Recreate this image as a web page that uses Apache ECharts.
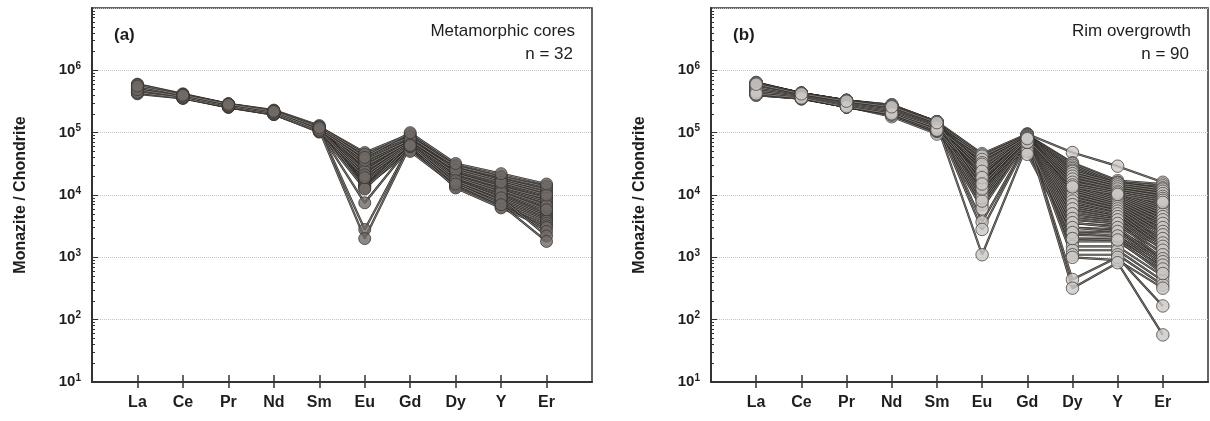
<!DOCTYPE html>
<html>
<head>
<meta charset="utf-8">
<script src="https://cdn.jsdelivr.net/npm/echarts@6/dist/echarts.min.js"></script>
<style>
  html, body { margin: 0; padding: 0; background: #fff; }
  #chart { width: 1210px; height: 421px; }
</style>
</head>
<body>
<div id="chart"></div>
<script>
// Element order along the x axis (chondrite-normalised REE + Y pattern)
const elements = ['La', 'Ce', 'Pr', 'Nd', 'Sm', 'Eu', 'Gd', 'Dy', 'Y', 'Er'];
const elementPos = [1, 2, 3, 4, 5, 6, 7, 8, 9, 10];

// Log-axis minor tick positions (2..9 within every decade 10^1 - 10^7)
const minorTicks = [
  20, 30, 40, 50, 60, 70, 80, 90,
  200, 300, 400, 500, 600, 700, 800, 900,
  2e3, 3e3, 4e3, 5e3, 6e3, 7e3, 8e3, 9e3,
  2e4, 3e4, 4e4, 5e4, 6e4, 7e4, 8e4, 9e4,
  2e5, 3e5, 4e5, 5e5, 6e5, 7e5, 8e5, 9e5,
  2e6, 3e6, 4e6, 5e6, 6e6, 7e6, 8e6, 9e6
];

// (a) Metamorphic cores, n = 32 — columns: La Ce Pr Nd Sm Eu Gd Dy Y Er
const coresData = [
  [5.8e5, 4.1e5, 2.9e5, 2.2e5, 1.25e5, 4.8e4, 9.5e4, 3.0e4, 2.0e4, 1.4e4],
  [5.5e5, 4.0e5, 2.8e5, 2.2e5, 1.2e5, 4.2e4, 8.8e4, 2.8e4, 1.9e4, 1.3e4],
  [5.2e5, 3.9e5, 2.8e5, 2.1e5, 1.2e5, 3.8e4, 8.0e4, 2.6e4, 1.8e4, 1.2e4],
  [6.0e5, 4.2e5, 2.9e5, 2.3e5, 1.3e5, 3.5e4, 7.8e4, 2.5e4, 1.6e4, 1.05e4],
  [4.8e5, 3.8e5, 2.7e5, 2.1e5, 1.15e5, 3.2e4, 7.5e4, 2.4e4, 1.5e4, 9.5e3],
  [4.5e5, 3.7e5, 2.6e5, 2.0e5, 1.1e5, 3.0e4, 7.2e4, 2.3e4, 1.45e4, 9.0e3],
  [5.0e5, 3.8e5, 2.7e5, 2.1e5, 1.15e5, 2.8e4, 7.0e4, 2.2e4, 1.4e4, 8.5e3],
  [4.4e5, 3.6e5, 2.6e5, 2.0e5, 1.1e5, 2.6e4, 6.8e4, 2.1e4, 1.3e4, 8.0e3],
  [5.4e5, 4.0e5, 2.8e5, 2.2e5, 1.2e5, 2.5e4, 6.6e4, 2.0e4, 1.25e4, 7.5e3],
  [4.7e5, 3.7e5, 2.7e5, 2.1e5, 1.1e5, 2.3e4, 6.5e4, 1.9e4, 1.2e4, 7.0e3],
  [5.1e5, 3.9e5, 2.8e5, 2.15e5, 1.15e5, 2.2e4, 6.4e4, 1.85e4, 1.15e4, 6.5e3],
  [4.3e5, 3.6e5, 2.55e5, 1.95e5, 1.05e5, 2.0e4, 6.2e4, 1.8e4, 1.1e4, 6.0e3],
  [5.6e5, 4.0e5, 2.85e5, 2.2e5, 1.2e5, 1.9e4, 6.0e4, 1.75e4, 1.05e4, 5.5e3],
  [4.6e5, 3.7e5, 2.65e5, 2.05e5, 1.1e5, 1.8e4, 5.8e4, 1.7e4, 1.0e4, 5.0e3],
  [4.9e5, 3.8e5, 2.7e5, 2.1e5, 1.12e5, 1.7e4, 5.7e4, 1.65e4, 9.5e3, 4.8e3],
  [4.4e5, 3.6e5, 2.6e5, 2.0e5, 1.05e5, 1.6e4, 5.5e4, 1.6e4, 9.0e3, 4.5e3],
  [5.3e5, 3.9e5, 2.8e5, 2.15e5, 1.18e5, 1.5e4, 5.4e4, 1.55e4, 8.5e3, 4.2e3],
  [4.7e5, 3.7e5, 2.65e5, 2.05e5, 1.08e5, 1.45e4, 5.3e4, 1.5e4, 8.0e3, 4.0e3],
  [5.0e5, 3.8e5, 2.7e5, 2.1e5, 1.12e5, 1.4e4, 5.2e4, 1.45e4, 7.5e3, 3.8e3],
  [4.5e5, 3.65e5, 2.6e5, 2.0e5, 1.05e5, 1.35e4, 5.0e4, 1.4e4, 7.0e3, 3.5e3],
  [5.7e5, 4.05e5, 2.85e5, 2.2e5, 1.22e5, 1.3e4, 6.8e4, 1.35e4, 6.5e3, 3.2e3],
  [4.2e5, 3.55e5, 2.55e5, 1.95e5, 1.02e5, 1.25e4, 6.0e4, 1.3e4, 6.2e3, 3.0e3],
  [5.5e5, 4.0e5, 2.8e5, 2.2e5, 1.2e5, 2.9e4, 7.2e4, 2.7e4, 1.7e4, 1.1e4],
  [4.8e5, 3.75e5, 2.7e5, 2.1e5, 1.1e5, 2.4e4, 6.9e4, 2.2e4, 1.35e4, 8.8e3],
  [5.2e5, 3.9e5, 2.75e5, 2.15e5, 1.15e5, 2.1e4, 6.6e4, 2.0e4, 1.2e4, 6.8e3],
  [4.6e5, 3.7e5, 2.65e5, 2.05e5, 1.08e5, 1.9e4, 6.3e4, 1.9e4, 1.1e4, 5.8e3],
  [5.9e5, 4.1e5, 2.9e5, 2.25e5, 1.25e5, 4.5e4, 8.5e4, 2.9e4, 1.95e4, 1.35e4],
  [5.0e5, 3.85e5, 2.7e5, 2.1e5, 1.12e5, 3.6e4, 7.6e4, 2.5e4, 1.6e4, 1.0e4],
  [4.4e5, 3.6e5, 2.6e5, 2.0e5, 1.05e5, 7.5e3, 6.0e4, 1.6e4, 8.0e3, 2.6e3],
  [5.3e5, 3.9e5, 2.8e5, 2.15e5, 1.15e5, 2.8e3, 6.5e4, 1.7e4, 9.0e3, 2.2e3],
  [4.9e5, 3.8e5, 2.7e5, 2.1e5, 1.1e5, 2.0e3, 6.2e4, 1.5e4, 7.0e3, 1.8e3],
  [5.6e5, 4.0e5, 2.85e5, 2.2e5, 1.2e5, 4.0e4, 1.0e5, 3.2e4, 2.2e4, 1.5e4]
];

// (b) Rim overgrowth, n = 90 — columns: La Ce Pr Nd Sm Eu Gd Dy Y Er
const rimData = [
  [6.4e5, 4.3e5, 3.3e5, 2.7e5, 1.5e5, 4.6e4, 9.5e4, 4.8e4, 2.9e4, 1.6e4],
  [6.0e5, 4.2e5, 3.2e5, 2.6e5, 1.45e5, 4.2e4, 9.2e4, 3.3e4, 1.7e4, 1.5e4],
  [5.8e5, 4.1e5, 3.1e5, 2.6e5, 1.4e5, 3.8e4, 9.0e4, 3.1e4, 1.6e4, 1.4e4],
  [5.6e5, 4.1e5, 3.1e5, 2.5e5, 1.4e5, 3.5e4, 8.9e4, 2.9e4, 1.55e4, 1.3e4],
  [5.5e5, 4.0e5, 3.0e5, 2.5e5, 1.35e5, 3.2e4, 8.8e4, 2.7e4, 1.5e4, 1.2e4],
  [5.4e5, 4.0e5, 3.0e5, 2.4e5, 1.35e5, 3.0e4, 8.7e4, 2.6e4, 1.45e4, 1.15e4],
  [5.3e5, 3.9e5, 2.9e5, 2.4e5, 1.3e5, 2.8e4, 8.6e4, 2.5e4, 1.4e4, 1.1e4],
  [5.2e5, 3.9e5, 2.9e5, 2.3e5, 1.3e5, 2.6e4, 8.5e4, 2.4e4, 1.35e4, 1.05e4],
  [5.1e5, 3.9e5, 2.9e5, 2.3e5, 1.25e5, 2.5e4, 8.4e4, 2.3e4, 1.3e4, 1.0e4],
  [5.0e5, 3.8e5, 2.8e5, 2.3e5, 1.25e5, 2.4e4, 8.3e4, 2.2e4, 1.25e4, 9.5e3],
  [4.9e5, 3.8e5, 2.8e5, 2.2e5, 1.2e5, 2.3e4, 8.2e4, 2.1e4, 1.2e4, 9.0e3],
  [4.8e5, 3.8e5, 2.8e5, 2.2e5, 1.2e5, 2.2e4, 8.1e4, 2.0e4, 1.15e4, 8.8e3],
  [4.7e5, 3.7e5, 2.75e5, 2.2e5, 1.15e5, 2.1e4, 8.0e4, 1.9e4, 1.1e4, 8.5e3],
  [4.6e5, 3.7e5, 2.7e5, 2.1e5, 1.15e5, 2.0e4, 7.9e4, 1.85e4, 1.08e4, 8.2e3],
  [4.5e5, 3.7e5, 2.7e5, 2.1e5, 1.1e5, 1.9e4, 7.8e4, 1.8e4, 1.05e4, 8.0e3],
  [4.4e5, 3.6e5, 2.7e5, 2.0e5, 1.1e5, 1.85e4, 7.7e4, 1.7e4, 1.0e4, 7.8e3],
  [4.3e5, 3.6e5, 2.65e5, 2.0e5, 1.05e5, 1.8e4, 7.6e4, 1.65e4, 9.8e3, 7.5e3],
  [4.2e5, 3.6e5, 2.6e5, 1.9e5, 1.05e5, 1.75e4, 7.5e4, 1.6e4, 9.5e3, 7.2e3],
  [4.1e5, 3.5e5, 2.6e5, 1.9e5, 1.0e5, 1.7e4, 7.4e4, 1.55e4, 9.2e3, 7.0e3],
  [4.0e5, 3.5e5, 2.6e5, 1.8e5, 9.5e4, 1.65e4, 7.3e4, 1.5e4, 9.0e3, 6.8e3],
  [6.2e5, 4.3e5, 3.2e5, 2.7e5, 1.45e5, 1.6e4, 9.3e4, 1.45e4, 8.8e3, 6.5e3],
  [6.1e5, 4.2e5, 3.2e5, 2.6e5, 1.45e5, 1.55e4, 9.1e4, 1.4e4, 8.5e3, 6.2e3],
  [5.9e5, 4.2e5, 3.1e5, 2.6e5, 1.4e5, 1.5e4, 9.0e4, 1.35e4, 8.2e3, 6.0e3],
  [5.7e5, 4.1e5, 3.1e5, 2.5e5, 1.4e5, 1.45e4, 8.9e4, 1.3e4, 8.0e3, 5.8e3],
  [5.5e5, 4.1e5, 3.0e5, 2.5e5, 1.35e5, 1.4e4, 8.8e4, 1.25e4, 7.8e3, 5.5e3],
  [5.3e5, 4.0e5, 3.0e5, 2.4e5, 1.3e5, 1.35e4, 8.7e4, 1.2e4, 7.5e3, 5.2e3],
  [5.1e5, 4.0e5, 2.9e5, 2.4e5, 1.3e5, 1.3e4, 8.6e4, 1.15e4, 7.2e3, 5.0e3],
  [4.9e5, 3.9e5, 2.9e5, 2.3e5, 1.25e5, 1.25e4, 8.5e4, 1.1e4, 7.0e3, 4.8e3],
  [4.7e5, 3.9e5, 2.8e5, 2.3e5, 1.2e5, 1.2e4, 8.4e4, 1.05e4, 6.8e3, 4.5e3],
  [4.5e5, 3.8e5, 2.8e5, 2.2e5, 1.15e5, 1.15e4, 8.3e4, 1.0e4, 6.5e3, 4.2e3],
  [4.3e5, 3.8e5, 2.7e5, 2.2e5, 1.1e5, 1.1e4, 8.2e4, 9.5e3, 6.2e3, 4.0e3],
  [4.1e5, 3.7e5, 2.7e5, 2.1e5, 1.05e5, 1.08e4, 8.1e4, 9.0e3, 6.0e3, 3.8e3],
  [6.3e5, 4.3e5, 3.3e5, 2.8e5, 1.5e5, 1.05e4, 8.0e4, 8.5e3, 5.8e3, 3.5e3],
  [6.0e5, 4.2e5, 3.2e5, 2.7e5, 1.45e5, 1.02e4, 7.9e4, 8.0e3, 5.5e3, 3.2e3],
  [5.7e5, 4.1e5, 3.1e5, 2.6e5, 1.4e5, 1.0e4, 7.8e4, 7.5e3, 5.2e3, 3.0e3],
  [5.4e5, 4.0e5, 3.0e5, 2.5e5, 1.35e5, 9.5e3, 7.7e4, 7.0e3, 5.0e3, 2.8e3],
  [5.1e5, 3.9e5, 2.9e5, 2.4e5, 1.3e5, 9.0e3, 7.6e4, 6.5e3, 4.8e3, 2.5e3],
  [4.8e5, 3.8e5, 2.8e5, 2.3e5, 1.25e5, 8.5e3, 7.5e4, 6.0e3, 4.5e3, 2.2e3],
  [4.5e5, 3.7e5, 2.7e5, 2.2e5, 1.2e5, 7.0e3, 7.4e4, 5.5e3, 4.2e3, 2.0e3],
  [4.2e5, 3.6e5, 2.6e5, 2.1e5, 1.1e5, 6.0e3, 7.3e4, 5.0e3, 4.0e3, 1.8e3],
  [6.1e5, 4.2e5, 3.2e5, 2.6e5, 1.45e5, 3.7e3, 7.0e4, 4.5e3, 3.8e3, 1.6e3],
  [5.8e5, 4.1e5, 3.1e5, 2.5e5, 1.4e5, 2.8e3, 6.8e4, 4.0e3, 3.5e3, 1.4e3],
  [5.5e5, 4.0e5, 3.0e5, 2.4e5, 1.35e5, 1.1e3, 6.5e4, 3.5e3, 3.2e3, 1.2e3],
  [5.2e5, 3.9e5, 2.9e5, 2.3e5, 1.3e5, 4.0e4, 6.0e4, 3.0e3, 2.8e3, 1.0e3],
  [4.9e5, 3.8e5, 2.8e5, 2.2e5, 1.25e5, 3.6e4, 5.5e4, 2.6e3, 2.5e3, 900],
  [4.6e5, 3.7e5, 2.7e5, 2.1e5, 1.2e5, 3.3e4, 5.0e4, 2.3e3, 2.2e3, 800],
  [4.3e5, 3.6e5, 2.6e5, 2.0e5, 1.15e5, 3.0e4, 4.5e4, 2.0e3, 2.0e3, 700],
  [4.0e5, 3.5e5, 2.6e5, 1.9e5, 1.05e5, 2.7e4, 7.0e4, 1.8e3, 1.8e3, 600],
  [6.2e5, 4.3e5, 3.3e5, 2.7e5, 1.5e5, 2.4e4, 9.4e4, 1.5e3, 1.5e3, 500],
  [5.9e5, 4.2e5, 3.2e5, 2.6e5, 1.45e5, 2.2e4, 9.2e4, 1.3e3, 1.3e3, 420],
  [5.6e5, 4.1e5, 3.1e5, 2.5e5, 1.4e5, 2.0e4, 9.0e4, 1.1e3, 1.1e3, 360],
  [5.3e5, 4.0e5, 3.0e5, 2.4e5, 1.35e5, 1.8e4, 8.8e4, 1.0e3, 900, 320],
  [5.0e5, 3.9e5, 2.9e5, 2.3e5, 1.3e5, 1.6e4, 8.6e4, 440, 1.0e3, 166],
  [4.7e5, 3.8e5, 2.8e5, 2.2e5, 1.25e5, 1.4e4, 8.4e4, 320, 820, 57],
  [5.8e5, 4.1e5, 3.1e5, 2.6e5, 1.4e5, 4.4e4, 8.9e4, 3.2e4, 1.6e4, 1.2e4],
  [5.5e5, 4.0e5, 3.0e5, 2.5e5, 1.35e5, 3.9e4, 8.7e4, 3.0e4, 1.5e4, 1.1e4],
  [5.2e5, 3.9e5, 2.9e5, 2.4e5, 1.3e5, 3.4e4, 8.5e4, 2.8e4, 1.45e4, 1.0e4],
  [4.9e5, 3.8e5, 2.8e5, 2.3e5, 1.25e5, 3.1e4, 8.3e4, 2.65e4, 1.4e4, 9.5e3],
  [4.6e5, 3.7e5, 2.7e5, 2.2e5, 1.2e5, 2.9e4, 8.1e4, 2.5e4, 1.35e4, 9.0e3],
  [4.3e5, 3.6e5, 2.6e5, 2.1e5, 1.1e5, 2.7e4, 7.9e4, 2.35e4, 1.3e4, 8.5e3],
  [6.3e5, 4.3e5, 3.3e5, 2.8e5, 1.5e5, 2.5e4, 9.5e4, 2.2e4, 1.25e4, 8.0e3],
  [6.0e5, 4.2e5, 3.2e5, 2.7e5, 1.45e5, 2.3e4, 9.3e4, 2.1e4, 1.2e4, 7.5e3],
  [5.7e5, 4.1e5, 3.1e5, 2.6e5, 1.4e5, 2.1e4, 9.1e4, 2.0e4, 1.15e4, 7.0e3],
  [5.4e5, 4.0e5, 3.0e5, 2.5e5, 1.35e5, 1.9e4, 8.9e4, 1.9e4, 1.1e4, 6.5e3],
  [5.1e5, 3.9e5, 2.9e5, 2.4e5, 1.3e5, 1.7e4, 8.7e4, 1.8e4, 1.05e4, 6.0e3],
  [4.8e5, 3.8e5, 2.8e5, 2.3e5, 1.25e5, 1.5e4, 8.5e4, 1.7e4, 1.0e4, 5.5e3],
  [4.5e5, 3.7e5, 2.7e5, 2.2e5, 1.2e5, 1.3e4, 8.3e4, 1.6e4, 9.5e3, 5.0e3],
  [4.2e5, 3.6e5, 2.6e5, 2.1e5, 1.1e5, 1.2e4, 8.1e4, 1.5e4, 9.0e3, 4.5e3],
  [6.1e5, 4.2e5, 3.2e5, 2.6e5, 1.45e5, 1.1e4, 7.9e4, 1.4e4, 8.5e3, 4.0e3],
  [5.8e5, 4.1e5, 3.1e5, 2.5e5, 1.4e5, 1.0e4, 7.7e4, 1.3e4, 8.0e3, 3.5e3],
  [5.5e5, 4.0e5, 3.0e5, 2.4e5, 1.35e5, 9.0e3, 7.5e4, 1.2e4, 7.5e3, 3.0e3],
  [5.2e5, 3.9e5, 2.9e5, 2.3e5, 1.3e5, 8.0e3, 7.3e4, 1.1e4, 7.0e3, 2.6e3],
  [4.9e5, 3.8e5, 2.8e5, 2.2e5, 1.25e5, 4.2e4, 9.0e4, 1.0e4, 6.5e3, 2.3e3],
  [4.6e5, 3.7e5, 2.7e5, 2.1e5, 1.2e5, 3.7e4, 8.8e4, 9.0e3, 6.0e3, 2.0e3],
  [4.3e5, 3.6e5, 2.6e5, 2.0e5, 1.1e5, 3.3e4, 8.6e4, 8.0e3, 5.5e3, 1.7e3],
  [6.2e5, 4.3e5, 3.3e5, 2.7e5, 1.5e5, 2.9e4, 8.4e4, 7.0e3, 5.0e3, 1.5e3],
  [5.9e5, 4.2e5, 3.2e5, 2.6e5, 1.45e5, 2.6e4, 8.2e4, 6.0e3, 4.5e3, 1.3e3],
  [5.6e5, 4.1e5, 3.1e5, 2.5e5, 1.4e5, 2.3e4, 8.0e4, 5.0e3, 4.0e3, 1.1e3],
  [5.3e5, 4.0e5, 3.0e5, 2.4e5, 1.35e5, 2.0e4, 7.8e4, 4.2e3, 3.5e3, 950],
  [5.0e5, 3.9e5, 2.9e5, 2.3e5, 1.3e5, 1.8e4, 7.6e4, 3.6e3, 3.0e3, 850],
  [4.7e5, 3.8e5, 2.8e5, 2.2e5, 1.25e5, 1.6e4, 7.4e4, 3.0e3, 2.6e3, 750],
  [4.4e5, 3.7e5, 2.7e5, 2.1e5, 1.15e5, 1.4e4, 7.2e4, 2.5e3, 2.2e3, 650],
  [4.1e5, 3.6e5, 2.6e5, 2.0e5, 1.1e5, 1.3e4, 7.0e4, 2.0e3, 1.9e3, 550],
  [5.7e5, 4.1e5, 3.1e5, 2.5e5, 1.4e5, 1.25e4, 9.2e4, 2.4e4, 1.55e4, 1.25e4],
  [5.4e5, 4.0e5, 3.0e5, 2.4e5, 1.35e5, 2.15e4, 9.0e4, 2.2e4, 1.45e4, 1.15e4],
  [5.1e5, 3.9e5, 2.9e5, 2.3e5, 1.3e5, 2.7e4, 8.8e4, 2.0e4, 1.35e4, 1.05e4],
  [4.8e5, 3.8e5, 2.8e5, 2.2e5, 1.25e5, 3.1e4, 8.6e4, 1.8e4, 1.25e4, 9.5e3],
  [4.5e5, 3.7e5, 2.7e5, 2.1e5, 1.2e5, 2.4e4, 8.4e4, 1.6e4, 1.15e4, 8.8e3],
  [4.2e5, 3.6e5, 2.6e5, 2.0e5, 1.1e5, 1.9e4, 8.2e4, 1.45e4, 1.08e4, 8.2e3],
  [6.0e5, 4.2e5, 3.2e5, 2.6e5, 1.45e5, 1.5e4, 8.0e4, 1.35e4, 1.02e4, 7.6e3]
];

const panels = [
  { tag: '(a)', label: 'Metamorphic cores', count: 'n = 32', rows: coresData,
    fill: '#6f6a66', edge: '#3a3633', size: 12 },
  { tag: '(b)', label: 'Rim overgrowth', count: 'n = 90', rows: rimData,
    fill: '#cbc7c4', edge: '#4a4643', size: 12.5 }
];

const FONT = '"Liberation Sans", Arial, Helvetica, sans-serif';
const INK = '#1e1e1e';
const AXIS = '#333333';

const grids = [
  { left: 92, top: 8, width: 500, height: 374 },
  { left: 711, top: 8, width: 497, height: 374 }
];

const xAxes = [];
const yAxes = [];
const series = [];
const graphics = [];

grids.forEach((g, p) => {
  g.show = true;
  g.borderColor = AXIS;
  g.borderWidth = 1.5;
  g.backgroundColor = '#fff';

  // labelled x axis with outward ticks
  xAxes.push({
    gridIndex: p, type: 'value', min: 0, max: 11, position: 'bottom',
    axisLine: { lineStyle: { color: AXIS, width: 2 } },
    axisTick: { show: true, inside: false, length: 6, customValues: elementPos,
      lineStyle: { color: AXIS, width: 1.5 } },
    axisLabel: { customValues: elementPos, margin: 13,
      formatter: v => elements[Math.round(v) - 1] || '',
      fontFamily: FONT, fontWeight: 'bold', fontSize: 16, color: INK },
    splitLine: { show: false }
  });
  // companion x axis drawing the inward half of each tick
  xAxes.push({
    gridIndex: p, type: 'value', min: 0, max: 11, position: 'bottom',
    axisLine: { show: false },
    axisTick: { show: true, inside: true, length: 7, customValues: elementPos,
      lineStyle: { color: AXIS, width: 1.5 } },
    axisLabel: { show: false },
    splitLine: { show: false }
  });

  // labelled log y axis: decade ticks, dotted grid lines
  yAxes.push({
    gridIndex: p, type: 'log', logBase: 10, min: 10, max: 1e7, position: 'left',
    name: 'Monazite / Chondrite', nameLocation: 'middle', nameGap: 63,
    nameTextStyle: { fontFamily: FONT, fontWeight: 'bold', fontSize: 16, color: INK },
    axisLine: { lineStyle: { color: AXIS, width: 2 } },
    axisTick: { show: true, inside: true, length: 6, lineStyle: { color: AXIS, width: 1 } },
    axisLabel: {
      margin: 11, showMaxLabel: false,
      formatter: v => {
        const e = Math.round(Math.log10(v));
        return e >= 7 ? '' : '{b|10}{s|' + e + '}';
      },
      rich: {
        b: { fontFamily: FONT, fontWeight: 'bold', fontSize: 15, color: INK },
        s: { fontFamily: FONT, fontWeight: 'bold', fontSize: 10, color: INK,
             verticalAlign: 'bottom', padding: [0, 0, 8, 0] }
      }
    },
    splitLine: { show: true, lineStyle: { color: '#c4c4c4', width: 1, type: [1, 1] } }
  });
  // companion y axis carrying the minor log ticks
  yAxes.push({
    gridIndex: p, type: 'log', logBase: 10, min: 10, max: 1e7, position: 'left',
    axisLine: { show: false },
    axisTick: { show: true, inside: true, length: 3, customValues: minorTicks,
      lineStyle: { color: AXIS, width: 1 } },
    axisLabel: { show: false },
    splitLine: { show: false }
  });

  const panel = panels[p];
  const xi = p * 2, yi = p * 2;

  // each sample pattern: a dark cased line with a thin pale core
  panel.rows.forEach(row => {
    const pts = row.map((v, i) => [elementPos[i], v]);
    series.push({
      type: 'line', xAxisIndex: xi, yAxisIndex: yi, data: pts,
      symbol: 'none', silent: true, z: 2,
      lineStyle: { color: '#302c29', width: 2.2 }
    });
    series.push({
      type: 'line', xAxisIndex: xi, yAxisIndex: yi, data: pts,
      symbol: 'none', silent: true, z: 2,
      lineStyle: { color: '#e2dfdc', width: 0.45 }
    });
  });

  // analysis points on top of the lines
  const dots = [];
  panel.rows.forEach(row => row.forEach((v, i) => dots.push([elementPos[i], v])));
  series.push({
    type: 'scatter', xAxisIndex: xi, yAxisIndex: yi, data: dots,
    symbol: 'circle', symbolSize: panel.size, silent: true, z: 3,
    itemStyle: { color: panel.fill, borderColor: panel.edge, borderWidth: 1 }
  });

  // panel captions
  const gx = g.left, gr = g.left + g.width;
  graphics.push({
    type: 'text', x: gx + 22, y: 35,
    style: { text: panel.tag, font: 'bold 17px ' + FONT, fill: INK,
             textAlign: 'left', textVerticalAlign: 'middle' }
  });
  graphics.push({
    type: 'text', x: gr - 17, y: 31,
    style: { text: panel.label, font: '17px ' + FONT, fill: INK,
             textAlign: 'right', textVerticalAlign: 'middle' }
  });
  graphics.push({
    type: 'text', x: gr - 19, y: 54,
    style: { text: panel.count, font: '17px ' + FONT, fill: INK,
             textAlign: 'right', textVerticalAlign: 'middle' }
  });
});

const chart = echarts.init(document.getElementById('chart'), null, { renderer: 'canvas' });
chart.setOption({
  animation: false,
  backgroundColor: '#ffffff',
  grid: grids,
  xAxis: xAxes,
  yAxis: yAxes,
  series: series,
  graphic: graphics
});
</script>
</body>
</html>
